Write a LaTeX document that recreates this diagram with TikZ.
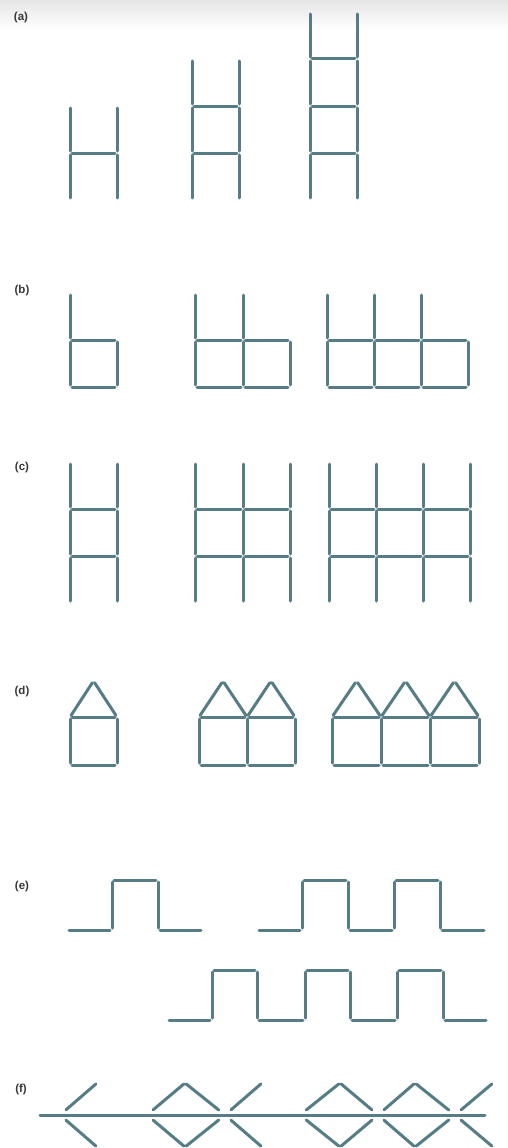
\documentclass[tikz,border=0pt]{standalone}
\usepackage{fontspec}
\setmainfont{Liberation Sans}
\definecolor{match}{RGB}{86,124,134}
\definecolor{lab}{RGB}{55,55,55}
\newcommand\Vs[3]{\draw[stick] (#1,#2) -- (#1,#3);}
\newcommand\Hs[3]{\draw[stick] (#2,#1) -- (#3,#1);}
\begin{document}
\begin{tikzpicture}[x=1pt,y=-1pt,
  stick/.style={line width=3pt, draw=match, line cap=round, shorten <=2pt, shorten >=2pt},
  diag/.style={line width=3pt, draw=match, line cap=round, shorten <=8pt, shorten >=1.5pt},
  lbl/.style={font=\fontsize{11.5}{13}\selectfont\bfseries, text=lab, inner sep=0pt}]
\useasboundingbox (0,0) rectangle (508,1148);
\shade[top color=gray!20, bottom color=white] (0,0) rectangle (508,30);
% labels
\node[lbl] (la) at (21,18) {(a)};
\node[lbl] (lb) at (22,291) {(b)};
\node[lbl] (lc) at (22,468) {(c)};
\node[lbl] (ld) at (22,692) {(d)};
\node[lbl] (le) at (22,887) {(e)};
\node[lbl] (lf) at (21,1090) {(f)};
% (a)
\foreach \x in {70,117} {\Vs{\x}{106}{153} \Vs{\x}{153}{200}}
\Hs{153}{70}{117}
\foreach \x in {192,239} {\foreach \y in {59,106,153} {\Vs{\x}{\y}{\y+47}}}
\foreach \y in {106,153} {\Hs{\y}{192}{239}}
\foreach \x in {310,357} {\foreach \y in {12,59,106,153} {\Vs{\x}{\y}{\y+47}}}
\foreach \y in {59,106,153} {\Hs{\y}{310}{357}}
% (b)
\foreach \a/\b in {70/117,195/243,243/290,327/374,374/421,421/468}
  {\Vs{\a}{293}{340} \Vs{\a}{340}{387} \Hs{340}{\a}{\b} \Hs{387}{\a}{\b}}
\foreach \x in {117,290,468} {\Vs{\x}{340}{387}}
% (c)
\foreach \x in {70,117,195,243,290,329,376,423,470}
  {\foreach \y in {462,509,556} {\Vs{\x}{\y}{\y+47}}}
\foreach \a/\b in {70/117,195/243,243/290,329/376,376/423,423/470}
  {\Hs{509}{\a}{\b} \Hs{556}{\a}{\b}}
% (d)
\foreach \a/\b in {70/117,199/247,247/295,332/381,381/430,430/479}
  {\Vs{\a}{717}{765} \Hs{717}{\a}{\b} \Hs{765}{\a}{\b}
   \draw[stick] (\a,717) -- ({(\a+\b)/2},681);
   \draw[stick] ({(\a+\b)/2},681) -- (\b,717);}
\foreach \x in {117,295,479} {\Vs{\x}{717}{765}}
% (e)
\foreach \xa/\ya/\xb/\yb in {67/930/112/930, 112/930/112/880, 112/880/158/880, 158/880/158/930, 158/930/203/930,
  257/930/302/930, 302/930/302/880, 302/880/348/880, 348/880/348/930, 348/930/394/930,
  394/930/394/880, 394/880/440/880, 440/880/440/930, 440/930/486/930,
  167/1020/212/1020, 212/1020/212/970, 212/970/257/970, 257/970/257/1020, 257/1020/305/1020,
  305/1020/305/970, 305/970/350/970, 350/970/350/1020, 350/1020/397/1020, 397/1020/397/970,
  397/970/443/970, 443/970/443/1020, 443/1020/488/1020}
  {\draw[stick] (\xa,\ya) -- (\xb,\yb);}
% (f)
\draw[stick, shorten <=0pt, shorten >=0pt] (40,1115) -- (485,1115);
\foreach \xa/\xb in {60/97,147/185,225/185,225/262,300/340,378/340,378/415,455/415,455/493}
  {\foreach \yb in {1083,1147} {\draw[diag] (\xa,1115) -- (\xb,\yb);}}
\end{tikzpicture}
\end{document}
